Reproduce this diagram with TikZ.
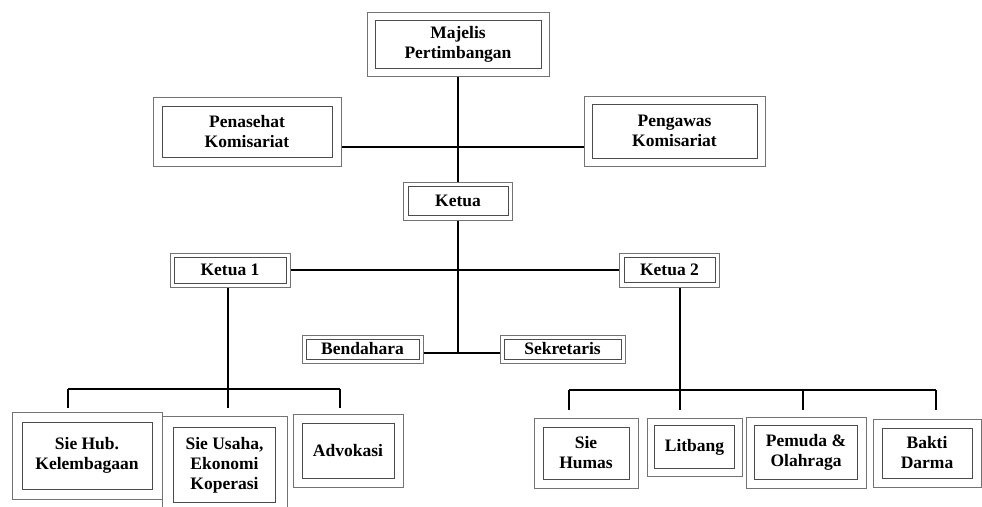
\documentclass[tikz,border=0pt]{standalone}
\usepackage{fontspec}
\setmainfont{Liberation Serif}
\tikzset{
  dbox/.style={draw=black!55, line width=1pt, align=center, inner sep=0pt,
    font=\bfseries\fontsize{17.5}{20}\selectfont,
    path picture={\draw[black!70,line width=1pt]
      ([xshift=#1pt,yshift=#1pt]path picture bounding box.south west) rectangle
      ([xshift=-#1pt,yshift=-#1pt]path picture bounding box.north east);}},
  link/.style={line width=1.8pt, black}
}
\begin{document}
\begin{tikzpicture}[x=1pt,y=-1pt]
\clip (0,0) rectangle (982,506);
\fill[white] (0,0) rectangle (982,506);
% pimpinan
\node[dbox=8, minimum width=182, minimum height=64] (majelis) at (458,44) {Majelis\\Pertimbangan};
\node[dbox=9, minimum width=188, minimum height=69] (penasehat) at (247,131.5) {Penasehat\\Komisariat};
\node[dbox=8, minimum width=181, minimum height=70] (pengawas) at (674.5,131) {Pengawas\\Komisariat};
\node[dbox=4.5, minimum width=109, minimum height=38] (ketua) at (458,201) {Ketua};
\node[dbox=4, minimum width=120, minimum height=34] (ketua1) at (230,270) {Ketua 1};
\node[dbox=4.5, minimum width=100, minimum height=34] (ketua2) at (669.5,270) {Ketua 2};
\node[dbox=4, minimum width=121, minimum height=28] (bendahara) at (362.5,349) {Bendahara};
\node[dbox=4, minimum width=125, minimum height=28] (sekretaris) at (562.5,349) {Sekretaris};
% seksi
\node[dbox=10, minimum width=150, minimum height=87] (siehub) at (87,455.5) {Sie Hub.\\Kelembagaan};
\node[dbox=11.5, minimum width=125, minimum height=98] (sieusaha) at (224.5,465) {Sie Usaha,\\Ekonomi\\Koperasi};
\node[dbox=9, minimum width=110, minimum height=73] (advokasi) at (348,450.5) {Advokasi};
\node[dbox=9, minimum width=104, minimum height=70] (humas) at (586,453) {Sie\\Humas};
\node[dbox=7.5, minimum width=95, minimum height=58] (litbang) at (694.5,447) {Litbang};
\node[dbox=8.5, minimum width=120, minimum height=71] (pemuda) at (806,452.5) {Pemuda \&\\Olahraga};
\node[dbox=9, minimum width=108, minimum height=68] (bakti) at (927,453) {Bakti\\Darma};
% garis
\coordinate (pk) at (458,147);
\coordinate (kb) at (458,353);
\coordinate (j1) at (228,389);
\coordinate (j2) at (680,390);
\draw[link] (majelis.south) -- (ketua.north);
\draw[link] (penasehat.east |- pk) -- (pengawas.west |- pk);
\draw[link] (ketua1.east) -- (ketua2.west);
\draw[link] (ketua.south) -- (kb);
\draw[link] (bendahara.east |- kb) -- (sekretaris.west |- kb);
\draw[link] (ketua1.south -| j1) -- (228,408);
\draw[link] (68,389) -- (340,389);
\foreach \x in {68,340}\draw[link] (\x,389) -- (\x,408);
\draw[link] (ketua2.south -| j2) -- (680,410);
\draw[link] (569,390) -- (936,390);
\foreach \x in {569,803,936}\draw[link] (\x,390) -- (\x,410);
\end{tikzpicture}
\end{document}
